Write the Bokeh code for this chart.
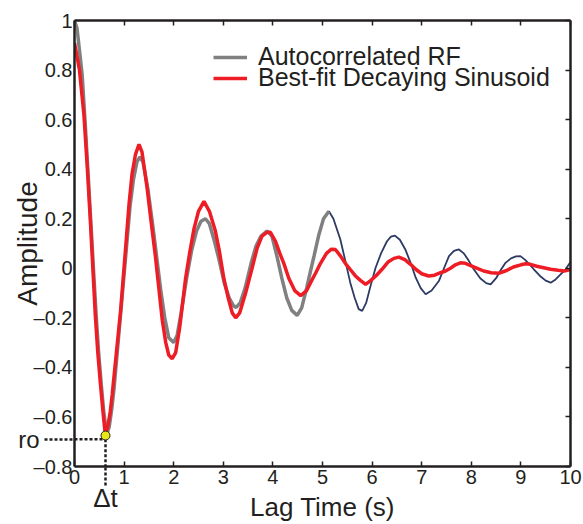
from bokeh.plotting import figure
from bokeh.models import (Range1d, LinearAxis, FixedTicker, CustomJSTickFormatter,
                          Legend, LegendItem)
from bokeh.embed import file_html
from bokeh.resources import INLINE

# ---------------- data ----------------
lag_rf = [0.00, 0.05, 0.10, 0.155, 0.22, 0.28, 0.34, 0.39, 0.44, 0.49, 0.54, 0.59, 0.65, 0.70,
          0.75, 0.80, 0.87, 0.95, 1.05, 1.12, 1.19, 1.26, 1.32, 1.38, 1.48, 1.58, 1.66, 1.74,
          1.82, 1.90, 2.00, 2.07, 2.15, 2.26, 2.36, 2.46, 2.55, 2.64, 2.72, 2.82, 2.92, 3.02,
          3.12, 3.20, 3.26, 3.34, 3.44, 3.56, 3.66, 3.76, 3.88, 3.98, 4.08, 4.18, 4.28, 4.38,
          4.49, 4.58, 4.68, 4.76, 4.83, 4.92, 5.02, 5.13, 5.22, 5.36, 5.46, 5.56, 5.65, 5.73,
          5.80, 5.88, 5.97, 6.07, 6.18, 6.30, 6.38, 6.46, 6.56, 6.67, 6.78, 6.88, 6.98, 7.08,
          7.20, 7.35, 7.45, 7.55, 7.65, 7.75, 7.85, 7.95, 8.05, 8.18, 8.30, 8.39, 8.50, 8.60,
          8.69, 8.80, 8.90, 8.99, 9.08, 9.18, 9.26, 9.38, 9.50, 9.60, 9.70, 9.80, 9.90, 10.00]
amp_rf = [1.00, 0.97, 0.88, 0.78, 0.57, 0.36, 0.15, -0.03, -0.20, -0.35, -0.47, -0.58, -0.67, -0.64,
          -0.57, -0.48, -0.32, -0.14, 0.09, 0.25, 0.36, 0.43, 0.45, 0.43, 0.32, 0.17, 0.04, -0.09,
          -0.20, -0.28, -0.30, -0.27, -0.18, -0.04, 0.07, 0.15, 0.19, 0.20, 0.18, 0.11, 0.03, -0.06,
          -0.12, -0.15, -0.158, -0.14, -0.08, 0.02, 0.09, 0.13, 0.15, 0.13, 0.05, -0.04, -0.12, -0.17,
          -0.19, -0.16, -0.08, -0.01, 0.05, 0.13, 0.20, 0.23, 0.20, 0.116, 0.03, -0.058, -0.12, -0.165,
          -0.172, -0.14, -0.07, 0.002, 0.06, 0.109, 0.128, 0.132, 0.115, 0.076, 0.02, -0.038, -0.08, -0.105,
          -0.09, -0.05, 0.00, 0.049, 0.07, 0.076, 0.06, 0.03, -0.004, -0.04, -0.06, -0.065, -0.04, -0.005,
          0.022, 0.04, 0.048, 0.049, 0.035, 0.015, -0.004, -0.03, -0.05, -0.058, -0.045, -0.025, -0.004, 0.025]
gray_until = 5.13  # the thick gray trace stops here; the thin trace continues

lag_fit = [0.00, 0.10, 0.19, 0.26, 0.32, 0.37, 0.42, 0.47, 0.52, 0.57, 0.62, 0.67, 0.72, 0.76,
           0.84, 0.93, 1.03, 1.10, 1.16, 1.23, 1.30, 1.36, 1.46, 1.55, 1.63, 1.70, 1.77, 1.84,
           1.90, 1.97, 2.04, 2.12, 2.24, 2.32, 2.41, 2.50, 2.61, 2.72, 2.84, 2.92, 3.01, 3.10,
           3.18, 3.25, 3.33, 3.45, 3.58, 3.68, 3.78, 3.88, 3.95, 4.05, 4.14, 4.22, 4.32, 4.44,
           4.56, 4.68, 4.78, 4.86, 4.96, 5.08, 5.18, 5.26, 5.36, 5.46, 5.56, 5.66, 5.77, 5.87,
           5.97, 6.08, 6.20, 6.32, 6.44, 6.54, 6.66, 6.78, 6.88, 7.00, 7.14, 7.26, 7.38, 7.48,
           7.58, 7.68, 7.78, 7.88, 8.00, 8.12, 8.25, 8.40, 8.55, 8.70, 8.85, 9.00, 9.10, 9.19,
           9.32, 9.46, 9.60, 9.75, 9.87, 10.00]
amp_fit = [0.91, 0.80, 0.62, 0.40, 0.19, 0.00, -0.19, -0.34, -0.46, -0.57, -0.67, -0.64, -0.58, -0.51,
           -0.35, -0.17, 0.08, 0.26, 0.38, 0.46, 0.50, 0.47, 0.33, 0.18, 0.05, -0.08, -0.21, -0.30,
           -0.35, -0.365, -0.34, -0.24, -0.04, 0.06, 0.16, 0.23, 0.27, 0.23, 0.15, 0.07, -0.04, -0.12,
           -0.18, -0.20, -0.18, -0.10, 0.00, 0.08, 0.13, 0.145, 0.145, 0.11, 0.06, 0.02, -0.04, -0.09,
           -0.11, -0.09, -0.05, -0.02, 0.02, 0.06, 0.077, 0.076, 0.05, 0.02, -0.005, -0.03, -0.05, -0.065,
           -0.05, -0.03, -0.004, 0.025, 0.04, 0.045, 0.035, 0.015, -0.004, -0.022, -0.031, -0.028, -0.018, -0.011,
           0.000, 0.014, 0.022, 0.02, 0.01, 0.0, -0.011, -0.018, -0.02, -0.01, 0.005, 0.014, 0.018, 0.016,
           0.008, 0.002, -0.004, -0.008, -0.011, -0.005]

ro_lag = [0.625]
ro_amp = [-0.675]
ro_level = [-0.69]        # level of the dotted guide to the amplitude axis
ro_text = "ro"
dt_text = "Δt"

x_ticks = [0, 1, 2, 3, 4, 5, 6, 7, 8, 9, 10]
y_ticks = [-0.8, -0.6, -0.4, -0.2, 0.0, 0.2, 0.4, 0.6, 0.8, 1.0]

legend_labels = ["Autocorrelated RF", "Best-fit Decaying Sinusoid"]

# ---------------- styling ----------------
INK = "#231f20"
GRAY = "#808080"
NAVY = "#2d3a63"
RED = "#ee1c25"
FONT = "Liberation Sans"
DASH = "3 2"

p = figure(width=583, height=524, x_range=Range1d(0, 10), y_range=Range1d(-0.8, 1.0),
           output_backend="svg", toolbar_location=None,
           min_border_left=74, min_border_right=13, min_border_top=20, min_border_bottom=56)
p.grid.visible = False
p.outline_line_color = None
p.background_fill_color = "white"
p.border_fill_color = "white"

# lines
p.line(lag_rf, amp_rf, line_color=NAVY, line_width=1.8)
g_lag = [t for t in lag_rf if t <= gray_until]
g_amp = amp_rf[:len(g_lag)]
gray_r = p.line(g_lag, g_amp, line_color=GRAY, line_width=3.5)
red_r = p.line(lag_fit, amp_fit, line_color=RED, line_width=3.5)

# dotted guides inside the frame (they continue outside as axis minor ticks)
p.segment(x0=[x_ticks[0]], y0=ro_level, x1=ro_lag, y1=ro_level,
          line_color=INK, line_width=2.5, line_dash=DASH)
p.segment(x0=ro_lag, y0=ro_level, x1=ro_lag, y1=[y_ticks[0]],
          line_color=INK, line_width=2.5, line_dash=DASH)
p.scatter(ro_lag, ro_amp, size=9, fill_color="#e6e619", line_color=INK, line_width=1)

# axes
yfmt = CustomJSTickFormatter(code="""
const r = Math.round(tick*10)/10;
if (r === 0) return '0';
const a = Math.abs(r);
const s = Math.abs(a - Math.round(a)) < 1e-9 ? String(Math.round(a)) : a.toFixed(1);
return (r < 0 ? '\\u2013' : '') + s;
""")
blank = CustomJSTickFormatter(code="return '';")

def style_axis(ax, tick_in):
    ax.axis_line_color = INK
    ax.axis_line_width = 2.5
    ax.major_tick_line_color = INK
    ax.major_tick_line_width = 1.5
    ax.major_tick_in = tick_in
    ax.major_tick_out = 0
    ax.minor_tick_in = 0
    ax.minor_tick_out = 0
    ax.major_label_text_color = INK
    ax.major_label_text_font = FONT
    ax.axis_label_text_font = FONT
    ax.axis_label_text_color = INK
    ax.axis_label_text_font_style = "normal"

def guide_minor(ax, length):
    ax.minor_tick_in = 0
    ax.minor_tick_out = length
    ax.minor_tick_line_color = INK
    ax.minor_tick_line_width = 2.5
    ax.minor_tick_line_dash = DASH

xa = p.xaxis[0]
xa.ticker = FixedTicker(ticks=x_ticks, minor_ticks=ro_lag)
style_axis(xa, 5)
guide_minor(xa, 19)
xa.major_label_text_font_size = "20px"
xa.major_label_standoff = 3 - 19

ya = p.yaxis[0]
ya.ticker = FixedTicker(ticks=y_ticks, minor_ticks=ro_level)
ya.formatter = yfmt
style_axis(ya, 0)
guide_minor(ya, 30)
ya.major_label_text_font_size = "20px"
ya.major_label_standoff = 2 - 30

# outer left axis: carries the "ro" marker label and the axis title
ro_axis = LinearAxis(ticker=FixedTicker(ticks=ro_level),
                     formatter=CustomJSTickFormatter(args=dict(lbl=ro_text), code="return lbl;"))
style_axis(ro_axis, 0)
ro_axis.axis_line_color = None
ro_axis.major_tick_line_color = None
ro_axis.major_label_text_font_size = "24px"
ro_axis.major_label_standoff = -9
ro_axis.axis_label = "Amplitude"
ro_axis.axis_label_text_font_size = "28px"
ro_axis.axis_label_standoff = -28
p.add_layout(ro_axis, "left")

# outer bottom axis: carries the "Δt" marker label and the axis title
dt_axis = LinearAxis(ticker=FixedTicker(ticks=ro_lag),
                     formatter=CustomJSTickFormatter(args=dict(lbl=dt_text), code="return lbl;"))
style_axis(dt_axis, 0)
dt_axis.axis_line_color = None
dt_axis.major_tick_line_color = None
dt_axis.major_label_text_font_size = "26px"
dt_axis.major_label_standoff = -4
dt_axis.axis_label = "Lag Time (s)"
dt_axis.axis_label_text_font_size = "26px"
dt_axis.axis_label_standoff = -24
p.add_layout(dt_axis, "below")

top = LinearAxis(ticker=FixedTicker(ticks=x_ticks), formatter=blank)
style_axis(top, 5)
top.major_label_text_font_size = "0px"
top.major_label_standoff = 0
p.add_layout(top, "above")

right = LinearAxis(ticker=FixedTicker(ticks=y_ticks), formatter=blank)
style_axis(right, 5)
right.major_label_text_font_size = "0px"
right.major_label_standoff = 0
p.add_layout(right, "right")

# one legend per row so that the row pitch can match the reference
for item, r, loc in [(legend_labels[0], gray_r, (139, 395)), (legend_labels[1], red_r, (139, 374))]:
    p.add_layout(Legend(items=[LegendItem(label=item, renderers=[r])],
                        location=loc, border_line_color=None, background_fill_alpha=0,
                        label_text_font=FONT, label_text_font_size="25px", label_text_color=INK,
                        glyph_width=34, label_standoff=11, spacing=0, padding=0, margin=0))

open("out.html", "w").write(file_html(p, INLINE))
